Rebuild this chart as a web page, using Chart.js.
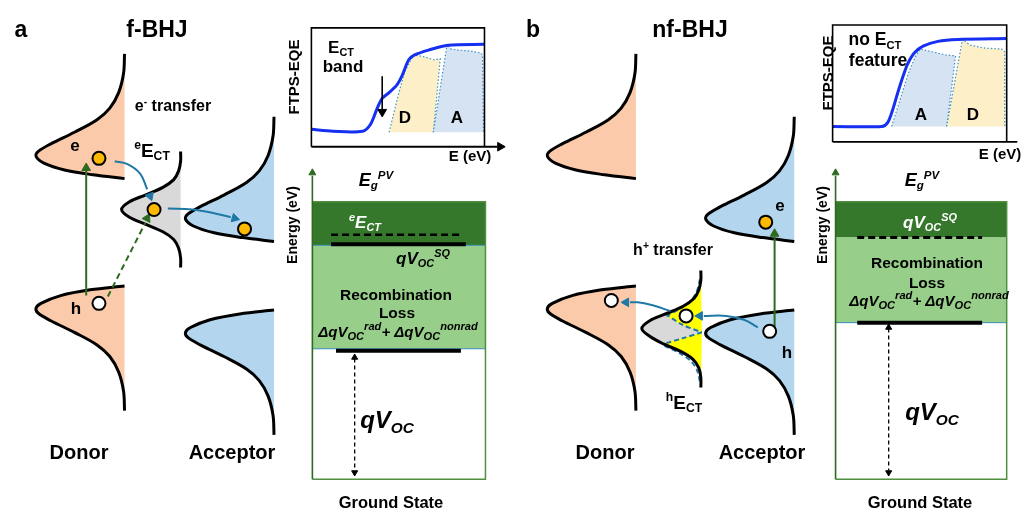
<!DOCTYPE html>
<html>
<head>
<meta charset="utf-8">
<script src="https://cdn.jsdelivr.net/npm/chart.js@4.4.0/dist/chart.umd.min.js"></script>
<style>
  body { margin: 0; background: #fff; }
  #wrap { position: relative; width: 1026px; height: 510px; overflow: hidden; }
  #diagram { position: absolute; left: 0; top: 0; }
  .t { position: absolute; transform: translate(-50%, -50%); white-space: nowrap;
       font-family: 'Liberation Sans', Arial, sans-serif; font-weight: bold; line-height: 1; color: #000; }
  .t sub, .t sup { font-size: 0.64em; line-height: 0; }
  .t sub { vertical-align: -0.3em; }
  .t sup { vertical-align: 0.6em; }
  .t.loss sub, .t.loss sup { font-size: 0.74em; }
  .i { font-style: italic; }
  .w { color: #fff; }
  .rot { transform: translate(-50%, -50%) rotate(-90deg); }
</style>
</head>
<body>
<div id="wrap">
  <canvas id="diagram" width="1026" height="510"></canvas>

  <!-- panel a -->
  <div class="t" style="left:21px;top:29px;font-size:23px">a</div>
  <div class="t" style="left:157px;top:29px;font-size:23px">f-BHJ</div>
  <div class="t" style="left:173px;top:106px;font-size:16px">e<sup>-</sup> transfer</div>
  <div class="t" style="left:152px;top:150px;font-size:19px"><sup>e</sup>E<sub>CT</sub></div>
  <div class="t" style="left:75px;top:145px;font-size:17px">e</div>
  <div class="t" style="left:76px;top:308px;font-size:17px">h</div>
  <div class="t" style="left:79px;top:452px;font-size:20px">Donor</div>
  <div class="t" style="left:232px;top:452px;font-size:20px">Acceptor</div>

  <div class="t rot" style="left:293px;top:77px;font-size:15px">FTPS-EQE</div>
  <div class="t" style="left:341px;top:47px;font-size:17px">E<sub>CT</sub></div>
  <div class="t" style="left:343px;top:66px;font-size:17px">band</div>
  <div class="t" style="left:405px;top:117px;font-size:17px">D</div>
  <div class="t" style="left:457px;top:117px;font-size:17px">A</div>
  <div class="t" style="left:470px;top:155px;font-size:15px">E (eV)</div>

  <div class="t rot" style="left:292px;top:225px;font-size:14px">Energy (eV)</div>
  <div class="t i" style="left:376px;top:180px;font-size:18px">E<sub>g</sub><sup>PV</sup></div>
  <div class="t i w" style="left:365px;top:222px;font-size:17px"><sup>e</sup>E<sub>CT</sub></div>
  <div class="t i" style="left:423px;top:258px;font-size:17px">qV<sub>OC</sub><sup>SQ</sup></div>
  <div class="t" style="left:396px;top:295px;font-size:15.5px">Recombination</div>
  <div class="t" style="left:397px;top:313px;font-size:15.5px">Loss</div>
  <div class="t i loss" style="left:398px;top:331px;font-size:15px">ΔqV<sub>OC</sub><sup>rad</sup>+ ΔqV<sub>OC</sub><sup>nonrad</sup></div>
  <div class="t i" style="left:387px;top:420px;font-size:24px">qV<sub>OC</sub></div>
  <div class="t" style="left:391px;top:502px;font-size:16.5px">Ground State</div>

  <!-- panel b -->
  <div class="t" style="left:533px;top:29px;font-size:23px">b</div>
  <div class="t" style="left:690px;top:29px;font-size:23px">nf-BHJ</div>
  <div class="t" style="left:780px;top:205px;font-size:17px">e</div>
  <div class="t" style="left:787px;top:352px;font-size:17px">h</div>
  <div class="t" style="left:673px;top:250px;font-size:16px">h<sup>+</sup> transfer</div>
  <div class="t" style="left:684px;top:402px;font-size:19px"><sup>h</sup>E<sub>CT</sub></div>
  <div class="t" style="left:605px;top:452px;font-size:20px">Donor</div>
  <div class="t" style="left:762px;top:452px;font-size:20px">Acceptor</div>

  <div class="t rot" style="left:827px;top:73px;font-size:15px">FTPS-EQE</div>
  <div class="t" style="left:875px;top:40px;font-size:17.5px">no E<sub>CT</sub></div>
  <div class="t" style="left:878px;top:61px;font-size:17.5px">feature</div>
  <div class="t" style="left:921px;top:114px;font-size:17px">A</div>
  <div class="t" style="left:973px;top:114px;font-size:17px">D</div>
  <div class="t" style="left:1000px;top:153px;font-size:15px">E (eV)</div>

  <div class="t rot" style="left:822px;top:225px;font-size:14px">Energy (eV)</div>
  <div class="t i" style="left:922px;top:180px;font-size:18px">E<sub>g</sub><sup>PV</sup></div>
  <div class="t i w" style="left:930px;top:222px;font-size:17px">qV<sub>OC</sub><sup>SQ</sup></div>
  <div class="t" style="left:927px;top:263px;font-size:15.5px">Recombination</div>
  <div class="t" style="left:927px;top:283px;font-size:15.5px">Loss</div>
  <div class="t i loss" style="left:929px;top:300px;font-size:15px">ΔqV<sub>OC</sub><sup>rad</sup>+ ΔqV<sub>OC</sub><sup>nonrad</sup></div>
  <div class="t i" style="left:932px;top:412px;font-size:24px">qV<sub>OC</sub></div>
  <div class="t" style="left:920px;top:502px;font-size:16.5px">Ground State</div>
</div>

<script>
// ---- shapes (diagram units = pixels of the figure) ----

// density-of-states curves, panel a
const donorTopA = [[118,47],[117,67],[112,87],[103,103],[90,115],[67,128],[43,140],[30,148],[28,153],[36,160],[57,167],[86,172],[118,176]];
const donorBotA = [[118,416],[117,396],[112,376],[103,360],[90,348],[67,335],[43,323],[30,315],[28,310],[33,305],[53,297],[83,291],[118,287]];
const accTopA = [[270,112],[269,132],[264,152],[255,168],[242,180],[219,193],[195,205],[182,213],[180,218],[188,225],[209,232],[238,237],[270,241]];
const accBotA = [[270,441],[269,421],[264,401],[255,385],[242,373],[219,360],[195,348],[182,340],[180,335],[185,330],[205,322],[235,316],[270,312]];
const ctStateA = [[175,148],[175,158],[173,168],[168,177],[157,185],[139,193],[123,200],[115,208],[123,216],[139,223],[157,231],[168,239],[173,248],[175,258],[175,268]];

// density-of-states curves, panel b
const donorTopB = [[638,47],[637,67],[632,87],[623,103],[610,115],[587,128],[563,140],[550,148],[548,153],[556,160],[577,167],[606,172],[638,176]];
const donorBotB = [[638,416],[637,396],[632,376],[623,360],[610,348],[587,335],[563,323],[550,315],[548,310],[553,305],[573,297],[603,291],[638,287]];
const accTopB = [[799,112],[798,132],[793,152],[784,168],[771,180],[748,193],[724,205],[711,213],[709,218],[717,225],[738,232],[767,237],[799,241]];
const accBotB = [[799,441],[798,421],[793,401],[784,385],[771,373],[748,360],[724,348],[711,340],[709,335],[714,330],[734,322],[764,316],[799,312]];
const ctStateB = [[704,271],[704,281],[702,291],[697,300],[686,308],[668,316],[652,323],[644,331],[652,339],[666,347],[684,355],[696,363],[702,372],[704,382],[704,392]];
const ctUpperB = [[704,271],[704,281],[702,291],[697,300],[686,308],[668,316],[685,327],[705,335]];
const ctLowerB = [[705,335],[686,341],[666,347],[684,355],[696,363],[702,372],[704,382],[704,392]];
const ctEdgeUpB = [[703,280],[700,292],[694,302],[684,310],[669,318]];
const ctEdgeLowB = [[667,349],[683,357],[694,365],[700,374],[703,386]];

// FTPS-EQE insets
const eqeCurveA = [[308,125],[330,127],[360,127],[368,120],[375,103],[380,93],[387,87],[395,79],[400,70],[407,53],[413,48],[427,43],[447,38],[484,37]];
const eqeDonorA = [[387,128],[397,87],[403,65],[412,48],[423,50],[432,53],[439,52],[432,128]];
const eqeAccA = [[432,128],[446,37],[450,42],[457,43],[470,44],[480,46],[482,48],[483,128]];
const eqeCurveB = [[838,122],[888,122],[894,118],[899,105],[904,88],[909,72],[914,58],[921,46],[930,39],[945,34],[965,32],[1015,31]];
const eqeAccB = [[898,122],[907,93],[915,67],[922,50],[927,42],[940,45],[953,48],[963,49],[954,122]];
const eqeDonorB = [[954,122],[970,32],[978,38],[993,41],[1010,42],[1013,45],[1013,122]];

// energy level diagrams
const gapBandA = [[309,200],[485,200],[485,245],[309,245]];
const lossBandA = [[309,245],[485,245],[485,352],[309,352]];
const ectLevelA = [[328,234],[460,234]];
const sqLevelA = [[328,244],[465,244]];
const vocLevelA = [[333,354],[460,354]];
const vocSpanA = [[352,362],[352,478]];
const gapBandB = [[841,200],[1015,200],[1015,237],[841,237]];
const lossBandB = [[841,237],[1015,237],[1015,325],[841,325]];
const sqLevelB = [[863,237],[990,237]];
const vocLevelB = [[863,325],[990,325]];
const vocSpanB = [[895,331],[895,478]];

// carriers and transfer arrows
const electrons = [[92,155],[148,208],[240,228],[770,221]];
const holes = [[92,305],[613,302],[689,318],[774,334]];
const exciteA = [[79,297],[79,168]];
const ctExciteA = [[101,298],[139,222]];
const eTransfer1 = [[108,158],[121,161],[134,171],[141,187]];
const eTransfer2 = [[162,207],[187,208],[210,212],[226,216]];
const exciteB = [[779,330],[779,236]];
const hTransfer1 = [[762,330],[748,322],[730,318],[707,318]];
const hTransfer2 = [[673,313],[655,307],[640,304],[632,304]];

function xy(arr) {
    return arr.map(function (p) { return {x: p[0], y: p[1]}; });
}

function area(points, color, edge, width, dash, tension) {
    return {
        data: xy(points), showLine: true, fill: 'shape', backgroundColor: color,
        borderColor: edge || 'rgba(0,0,0,0)', borderWidth: edge ? (width || 1.3) : 0,
        borderDash: dash || [], pointRadius: 0, tension: tension || 0
    };
}

function curve(points, color, width, dash, tension) {
    return {
        data: xy(points), showLine: true, fill: false, borderColor: color,
        borderWidth: width, borderDash: dash || [], pointRadius: 0, tension: tension || 0
    };
}

function heads(points, rotation, color, size) {
    return {
        data: xy(points), showLine: false, pointStyle: 'triangle', pointRotation: rotation,
        pointRadius: size, backgroundColor: color, borderColor: color, borderWidth: 1
    };
}

function dots(points, color) {
    return {
        data: xy(points), showLine: false, pointStyle: 'circle', pointRadius: 6.5,
        backgroundColor: color, borderColor: '#000', borderWidth: 2
    };
}

const peach = '#fbcaab', sky = '#b3d6ee', dark = '#35782c', light = '#97cf8a';
const frameGreen = '#4f8f3f', arrowGreen = '#2d6a1f', teal = '#1f78a6', eqeBlue = '#1530f0';
const dotted = '#3d93c4';

// layers from bottom to top
const layers = [
    // inset a
    area(eqeDonorA, '#fdf0c9', dotted, 1.2, [1.5, 2]),
    area(eqeAccA, '#d6e3f2', dotted, 1.2, [1.5, 2]),
    curve(eqeCurveA, eqeBlue, 3, [], 0.3),
    curve([[308,143],[308,20],[484,20],[484,143]], '#000', 1.6),
    curve([[308,143],[497,143]], '#000', 1.8),
    heads([[500,143]], 90, '#000', 5),
    curve([[380,70],[380,104]], '#000', 1.6),
    heads([[380,107]], 180, '#000', 5),

    // inset b
    area(eqeAccB, '#d6e3f2', dotted, 1.2, [1.5, 2]),
    area(eqeDonorB, '#fdf0c9', dotted, 1.2, [1.5, 2]),
    curve(eqeCurveB, eqeBlue, 3, [], 0.3),
    curve([[838,138],[838,17],[1015,17],[1015,138]], '#000', 1.6),
    curve([[838,138],[1026,138]], '#000', 1.8),

    // energy diagram a
    area(gapBandA, dark),
    area(lossBandA, light),
    curve([[309,245],[485,245]], '#3c8dbc', 1),
    curve([[309,352],[485,352]], '#3c8dbc', 1),
    curve([[309,200],[485,200],[485,487],[309,487]], frameGreen, 1.5),
    curve([[309,487],[309,173]], arrowGreen, 1.6),
    heads([[309,170]], 0, arrowGreen, 4),
    curve(ectLevelA, '#000', 2.5, [7, 4]),
    curve(sqLevelA, '#000', 4),
    curve(vocLevelA, '#000', 4),
    curve(vocSpanA, '#000', 1.3, [4, 3]),
    heads([[352,361],[352,480]], [0, 180], '#000', 3.5),

    // energy diagram b
    area(gapBandB, dark),
    area(lossBandB, light),
    curve([[841,325],[1015,325]], '#3c8dbc', 1),
    curve([[841,200],[1015,200],[1015,487],[841,487]], frameGreen, 1.5),
    curve([[841,487],[841,173]], arrowGreen, 1.6),
    heads([[841,170]], 0, arrowGreen, 4),
    curve(sqLevelB, '#000', 3, [7, 4]),
    curve(vocLevelB, '#000', 4),
    curve(vocSpanB, '#000', 1.3, [4, 3]),
    heads([[895,330],[895,480]], [0, 180], '#000', 3.5),

    // density of states
    area(donorTopA, peach, '#000', 3, [], 0.35),
    area(donorBotA, peach, '#000', 3, [], 0.35),
    area(accTopA, sky, '#000', 3, [], 0.35),
    area(accBotA, sky, '#000', 3, [], 0.35),
    area(ctStateA, '#d9d9d9', '#000', 3, [], 0.35),
    area(donorTopB, peach, '#000', 3, [], 0.35),
    area(donorBotB, peach, '#000', 3, [], 0.35),
    area(accTopB, sky, '#000', 3, [], 0.35),
    area(accBotB, sky, '#000', 3, [], 0.35),
    area(ctStateB, '#d9d9d9', null, 0, [], 0.35),
    area(ctUpperB, '#ffff00', null, 0, [], 0.3),
    area(ctLowerB, '#ffff00', null, 0, [], 0.3),
    curve([[668,316],[685,327],[705,335]], teal, 2, [5, 3], 0.3),
    curve([[705,335],[686,341],[666,347]], teal, 2, [5, 3], 0.3),
    curve(ctEdgeUpB, teal, 1.8, [5, 3], 0.3),
    curve(ctEdgeLowB, teal, 1.8, [5, 3], 0.3),
    curve(ctStateB, '#000', 3, [], 0.35),

    // transfer arrows
    curve(exciteA, arrowGreen, 2),
    heads([[79,165]], 0, arrowGreen, 5),
    curve(ctExciteA, arrowGreen, 2, [6, 4]),
    heads([[141,217]], 27, arrowGreen, 5),
    curve(eTransfer1, teal, 2, [], 0.4),
    heads([[144,194]], 160, teal, 5),
    curve(eTransfer2, teal, 2, [], 0.4),
    heads([[230,217]], 105, teal, 5),
    curve(exciteB, arrowGreen, 2),
    heads([[779,233]], 0, arrowGreen, 5),
    curve(hTransfer1, teal, 2, [], 0.4),
    heads([[703,318]], 270, teal, 5),
    curve(hTransfer2, teal, 2, [], 0.4),
    heads([[628,304]], 270, teal, 5),

    // carriers
    dots(electrons, '#fcb900'),
    dots(holes, '#fff')
];

function initDiagram() {
    const ctx = document.getElementById('diagram').getContext('2d');
    new Chart(ctx, {
        type: 'scatter',
        data: { datasets: layers.slice().reverse() },  // first dataset is drawn on top
        options: {
            responsive: false,
            animation: false,
            layout: { padding: 0 },
            plugins: { legend: { display: false }, tooltip: { enabled: false } },
            scales: {
                x: { type: 'linear', min: 0, max: 1026, display: false },
                y: { type: 'linear', min: 0, max: 510, reverse: true, display: false }
            }
        }
    });
}

window.onload = () => {
    initDiagram();
};
</script>
</body>
</html>
